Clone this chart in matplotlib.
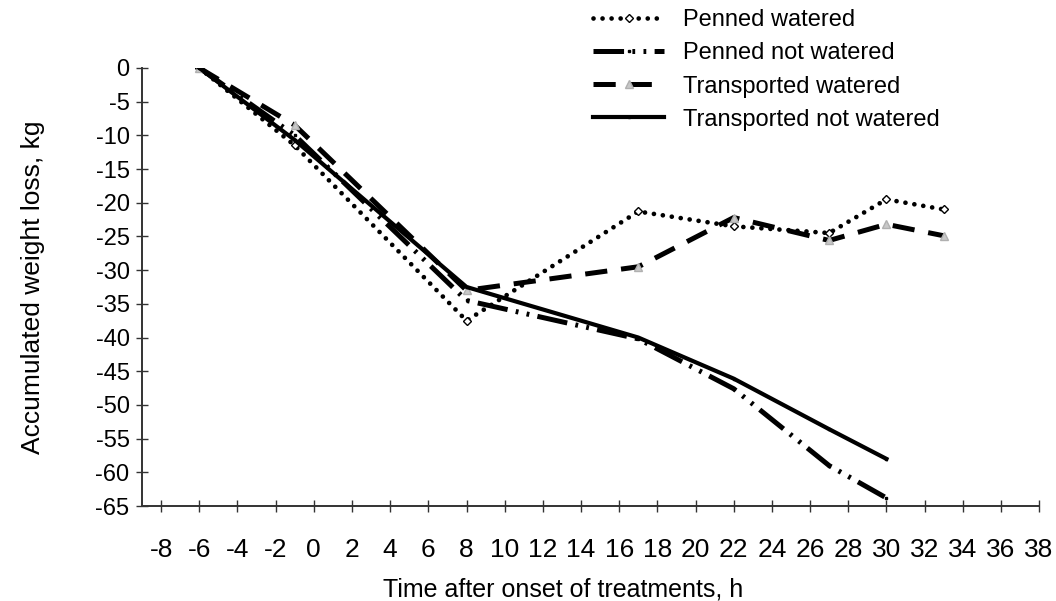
# accumulated weight loss over time, four treatment groups

import matplotlib
matplotlib.use("Agg")
import matplotlib.pyplot as plt
from matplotlib import font_manager

plt.rcParams['font.family'] = ['Liberation Sans', 'DejaVu Sans']
plt.rcParams['axes.unicode_minus'] = False
plt.rcParams['lines.scale_dashes'] = False

installed = {f.name for f in font_manager.fontManager.ttflist}
narrow = 'Liberation Sans Narrow' if 'Liberation Sans Narrow' in installed else 'Liberation Sans'

hours_watered = [-6, -1, 8, 17, 22, 27, 30, 33]
hours_not_watered = [-6, -1, 8, 17, 22, 27, 30]

penned_watered = [0, -11.5, -37.5, -21.3, -23.5, -24.5, -19.5, -21.0]
penned_not_watered = [0, -10.0, -34.5, -40.2, -47.6, -59.0, -63.8]
transported_watered = [0, -8.5, -33.0, -29.5, -22.2, -25.6, -23.2, -24.9]
transported_not_watered = [0, -10.7, -32.5, -40.0, -46.1, -53.6, -58.0]

x_ticks = list(range(-8, 39, 2))
y_ticks = list(range(-65, 1, 5))

fig = plt.figure(figsize=(10.56, 6.01), dpi=100, facecolor='w')
ax = fig.add_axes([0.1345, 0.158, 0.8495, 0.729])

ax.plot(hours_watered, penned_watered, color='black', lw=3.4,
        dashes=(0.01, 6.5), dash_capstyle='round',
        marker='D', markersize=4.5, markerfacecolor='white',
        markeredgecolor='black', markeredgewidth=1,
        label='Penned watered')
ax.plot(hours_not_watered, penned_not_watered, color='black', lw=3.6,
        dashes=(22, 6, 2, 6, 2, 6), marker='s', markersize=2,
        label='Penned not watered')
ax.plot(hours_watered, transported_watered, color='black', lw=3.6,
        dashes=(16, 10), marker='^', markersize=5.5,
        markerfacecolor='#c8c8c8', markeredgecolor='#b0b0b0',
        label='Transported watered')
ax.plot(hours_not_watered, transported_not_watered, color='black', lw=3.0,
        marker='s', markersize=2, label='Transported not watered')

ax.set_xlim(-9, 38)
ax.set_ylim(-65, 0)
ax.set_xticks(x_ticks)
ax.set_xticklabels([str(v) for v in x_ticks], family=narrow, fontsize=19)
ax.set_yticks(y_ticks)
ax.set_yticklabels([str(v) for v in y_ticks], fontsize=17)

for side in ['top', 'right']:
    ax.spines[side].set_visible(False)
for side in ['left', 'bottom']:
    ax.spines[side].set_linewidth(1.4)
    ax.spines[side].set_color('#333333')

ax.tick_params(axis='both', direction='inout', length=8, width=1,
               color='#333333')
ax.tick_params(axis='x', pad=19)
ax.tick_params(axis='y', pad=5)

ax.set_xlabel('Time after onset of treatments, h', family=narrow, fontsize=18)
ax.xaxis.set_label_coords(0.469, -0.163)
ax.set_ylabel('Accumulated weight loss, kg', fontsize=19)
ax.yaxis.set_label_coords(-0.108, 0.5)

fig.legend(loc='upper left', bbox_to_anchor=(0.546, 1.012), frameon=False,
           fontsize=17, handlelength=3.0, handletextpad=0.8,
           labelspacing=0.47, borderpad=0.2)

fig.savefig('out.png', dpi=100, facecolor='w')
